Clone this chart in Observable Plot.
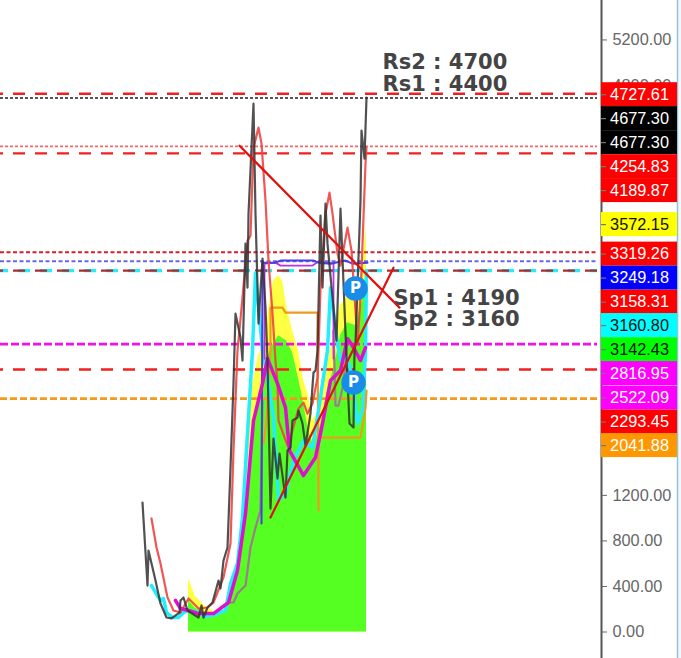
<!DOCTYPE html>
<html><head><meta charset="utf-8">
<style>html,body{margin:0;padding:0;background:#fff}svg{display:block}</style>
<script src="https://cdn.jsdelivr.net/npm/d3@7"></script>
<script src="https://cdn.jsdelivr.net/npm/@observablehq/plot@0.6"></script>
</head><body><div id="c"></div>
<script>
const priceTicks = [0,400,800,1200,4800,5200,5600];
const close = [[0,1137],[5,408],[6,716],[13,452],[18,250],[24,127],[29,119],[37,171],[38,277],[41,303],[45,189],[56,127],[59,233],[61,127],[65,215],[70,259],[76,452],[78,382],[81,628],[85,742],[88,1444],[91,2182],[93,2796],[98,2586],[100,2384],[103,3411],[105,3025],[106,3674],[111,4640],[113,3674],[116,2709],[120,3279],[123,2849],[125,2384],[128,1084],[131,1699],[135,1348],[137,1567],[143,1181],[145,1594],[148,1620],[150,1857],[155,1883],[156,1945],[160,1831],[163,1637],[168,1918],[171,2278],[173,2296],[175,2472],[178,3657],[180,3025],[183,3762],[185,3411],[194,2559],[198,3718],[204,2410],[207,1831],[211,1796],[212,2472],[213,2533],[218,3789],[219,4403],[222,4157],[224,4693]];
const redAvg = [[9,997],[14,742],[18,601],[25,303],[31,189],[38,171],[46,294],[56,206],[65,215],[71,259],[81,479],[88,777],[91,1594],[95,2472],[100,2937],[105,3437],[108,3481],[111,4254],[116,4430],[119,4289],[123,3789],[126,3262],[130,2796],[133,2384],[135,2182],[136,1857],[145,1637],[148,1708],[156,1962],[161,2015],[165,1918],[170,2006],[175,2234],[176,2472],[178,3025],[183,3674],[187,3859],[190,3674],[195,3323],[198,3218],[205,3552],[209,3350],[213,2823],[215,2533],[218,2937],[223,4113],[224,4254]];
const cyanAvg = [[9,408],[13,347],[18,277],[21,294],[24,171],[30,127],[36,127],[41,171],[46,189],[53,180],[63,136],[73,154],[83,189],[88,426],[95,604],[100,1005],[105,1747],[110,2472],[113,3156],[116,2849],[120,2472],[124,2296],[131,1883],[136,1155],[143,1216],[151,1506],[161,1681],[170,1620],[176,1945],[180,2182],[185,2472],[188,3025],[195,2533],[198,2384],[205,2410],[211,2182],[215,1831],[220,1945],[223,2472],[224,3174]];
const magentaAvg = [[33,277],[38,206],[46,189],[56,162],[71,162],[86,259],[95,540],[103,1040],[111,1857],[120,2182],[125,2401],[135,2182],[143,1971],[147,1594],[151,1532],[161,1374],[173,1532],[180,1831],[188,2208],[198,2296],[205,2577],[211,2498],[218,2384],[223,2498]];
const mauveA = [[85,259],[91,259],[95,338],[103,408],[108,742],[113,918],[118,1067],[120,2033]];
const mauveB = [[191,2647],[193,1989],[196,1989],[201,2182],[205,2559]];
const blueBand = [[119,953],[120,3244],[133,3244],[138,3262],[171,3262],[176,3244],[188,3235],[203,3262],[210,3235],[225,3244]];
const purpleBand = [[122,2401],[122,3235],[133,3244],[138,3218],[170,3218],[176,3253],[191,3235],[191,2401]];
const orangeStep = [[121,1655],[124,1857],[128,2472],[128,2849],[140,2849],[143,2805],[175,2805],[176,1067],[176,1708],[218,1708],[223,1971],[224,2120]];
const yellowArea = [[46,470],[53,312],[63,224],[73,171],[83,189],[90,277],[95,628],[101,1067],[105,1594],[110,2164],[116,2428],[122,2559],[126,2823],[131,3086],[136,3130],[140,3086],[144,2867],[150,2647],[156,2472],[161,2208],[166,2076],[170,1857],[176,1927],[183,2252],[190,2559],[198,2867],[206,2955],[214,2911],[220,3218],[224,3572]];
const greenArea = [[46,277],[53,206],[63,162],[73,136],[83,171],[86,240],[95,522],[103,1023],[111,1813],[120,2138],[126,2428],[130,2516],[136,2603],[144,2559],[150,2454],[156,2226],[161,2015],[166,1769],[171,1637],[178,1813],[185,2120],[192,2340],[198,2603],[205,2717],[213,2691],[220,2911],[224,3174]];
const trendDown = [[97,4271],[257,2849]];
const trendUp = [[128,1005],[251,3200]];
const pivots = [[213,3016],[211,2191]];
const notes = [["Rs2 : 4700",240,5000],["Rs1 : 4400",240,4807],["Sp1 : 4190",251,2928],["Sp2 : 3160",251,2744]];
const boxTexts = ["4727.61","4677.30","4677.30","4254.83","4189.87","3572.15","3319.26","3249.18","3158.31","3160.80","3142.43","2816.95","2522.09","2293.45","2041.88"];
const boxSlots = [4719,4509,4298,4087,3877,3578,3319,3108,2897,2691,2480,2270,2055,1844,1637];
const boxFills = ["#ff0000","#000000","#000000","#ff0000","#ff0000","#ffff00","#ff0000","#0000ff","#ff0000","#00ffff","#00ff00","#ff00ff","#ff00ff","#ff0000","#ff9800"];
const boxInks = ["#fff","#fff","#fff","#fff","#fff","#111","#fff","#fff","#fff","#111","#111","#fff","#fff","#fff","#fff"];
const levels = [
 [4727,"#f02020",2.4,"12,10",9],[4690,"#555555",2,"3,2",0],[4265,"#f06a6a",1.8,"3,2",0],[4204,"#f02020",2.4,"12,10",9],
 [3335,"#d8202c",2,"4,2.5",0],[3256,"#6a66e8",2,"4,2.5",0],[3174,"#22eeff",3.2,"12,10",4],[3174,"#a82c30",2.2,"12,10",9],
 [2529,"#f010e8",2.8,"8,3",0],[2305,"#f02020",2.4,"12,10",9],[2050,"#f39a1c",2.8,"7,3",0]];
const X=d=>d[0],Y=d=>d[1];
const boxes = boxTexts.map((t,i)=>({t,s:boxSlots[i],f:boxFills[i],k:boxInks[i]}));
const line=(a,stroke,strokeWidth,extra={})=>Plot.line(a,{x:X,y:Y,stroke,strokeWidth,strokeLinejoin:"round",...extra});
const chart = Plot.plot({
  width:681,height:658,marginLeft:0,marginRight:80,marginTop:0,marginBottom:0,
  x:{domain:[-142,459],range:[0,601],axis:null},
  y:{domain:[0,5600],range:[631.5,-6.1],axis:null},
  style:{background:"#fff"},
  marks:[
    Plot.rect([0],{x1:535,x2:539,y1:-600,y2:5800,fill:"#f4f8fb"}),
    Plot.areaY(yellowArea,{x:X,y:Y,fill:"#ffff44"}),
    Plot.areaY(greenArea,{x:X,y:Y,fill:"#55ff22"}),
    ...levels.map(l=>Plot.ruleY([l[0]],{x1:-142,x2:455,stroke:l[1],strokeWidth:l[2],strokeDasharray:l[3],strokeDashoffset:l[4]})),
    line(orangeStep,"#f09a20",2.2),
    line(mauveA,"#a07a90",2.2),
    line(mauveB,"#a07a90",2.2),
    line(cyanAvg,"#22eeff",3.5),
    line(purpleBand,"#c030e8",1.8),
    line(blueBand,"#4a3ce0",2),
    line(redAvg,"#ee4444",2.2,{strokeOpacity:.9}),
    line(magentaAvg,"#dd11cc",3.5),
    line(close,"#333333",2.2,{strokeOpacity:.85}),
    line(trendDown,"#e01010",2.2),
    line(trendUp,"#e01010",2.2),
    Plot.dot(pivots,{x:X,y:Y,r:11.5,fill:"#1a8ce8",stroke:"#1a8ce8"}),
    Plot.text(pivots,{x:X,y:Y,text:()=>"P",fill:"#fff",fontSize:15,fontWeight:"bold",fontFamily:"DejaVu Sans"}),
    Plot.ruleX([459],{stroke:"#555",strokeWidth:2}),
    Plot.ruleX([535],{stroke:"#8fc4dc",strokeWidth:1.5}),
    Plot.axisY(priceTicks,{anchor:"right",label:null,tickSize:5,tickPadding:6,tickFormat:d3.format(".2f"),fontSize:16.3,fontFamily:"Liberation Sans",color:"#666",stroke:"#666",fill:"#666"}),
    Plot.rect(boxes,{x1:459,x2:535,y1:d=>d.s-105.4,y2:d=>d.s+105.4,fill:d=>d.f}),
    Plot.ruleY(boxes,{y:d=>d.s,x1:459,x2:464,stroke:"#777",strokeWidth:1.2}),
    Plot.text(boxes,{x:497,y:d=>d.s,text:d=>d.t,fill:d=>d.k,fontSize:16.3,fontFamily:"Liberation Sans"}),
    Plot.text(notes,{x:d=>d[1],y:d=>d[2],text:d=>d[0],textAnchor:"start",fill:"#444",fontSize:21,fontWeight:"bold",fontFamily:"DejaVu Sans"})
  ]
});
document.getElementById("c").appendChild(chart);
</script></body></html>
